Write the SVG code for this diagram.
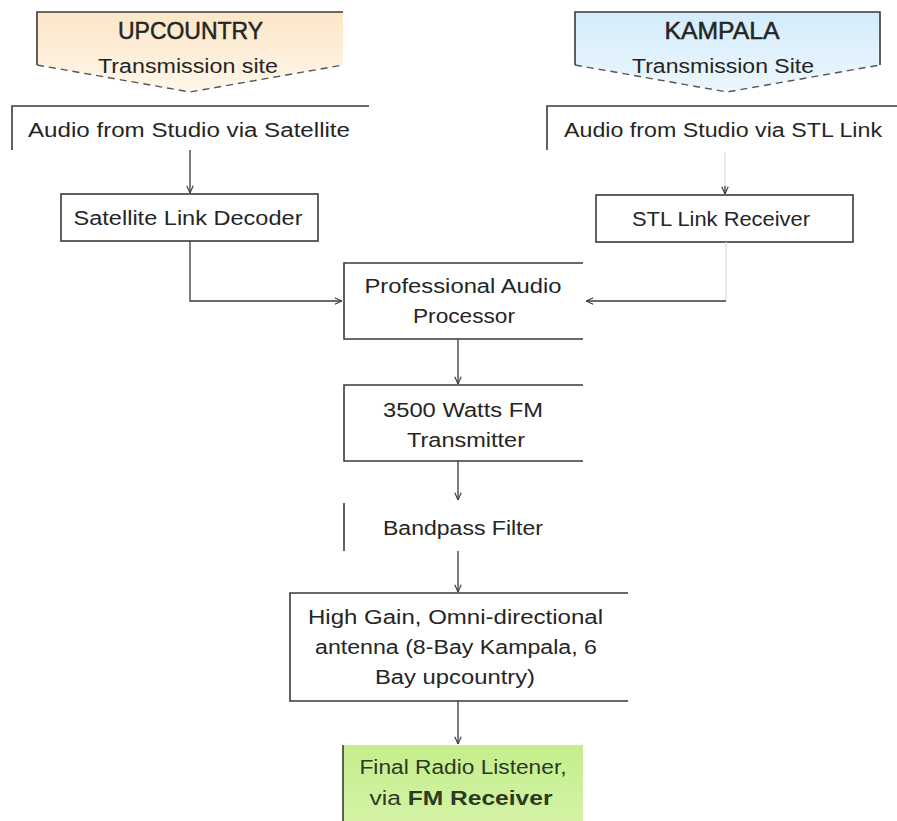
<svg xmlns="http://www.w3.org/2000/svg" width="897" height="821" viewBox="0 0 897 821">
<style>
  .t { font-family: "Liberation Sans", Arial, sans-serif; font-size: 20px; fill: #252525; text-anchor: middle; }
  .h { font-size: 24px; stroke: #252525; stroke-width: 0.5; }
  .g { fill: #2c3a22; }
  .b { font-weight: bold; }
  .ln { stroke: #3a3a3a; stroke-width: 1.6; fill: none; }
  .fl { stroke: #d8d8d8; stroke-width: 1.2; fill: none; }
  .dash { stroke: #555; stroke-width: 1.4; fill: none; stroke-dasharray: 7 5; }
  .con { stroke: #3a3a3a; stroke-width: 1.3; fill: none; }
</style>
<defs>
  <linearGradient id="peach" x1="0" y1="0" x2="0" y2="1">
    <stop offset="0" stop-color="#fce6c6"/>
    <stop offset="1" stop-color="#fff6ea"/>
  </linearGradient>
  <linearGradient id="blue" x1="0" y1="0" x2="0" y2="1">
    <stop offset="0" stop-color="#d3ecfb"/>
    <stop offset="1" stop-color="#ecf7fd"/>
  </linearGradient>
  <linearGradient id="green" x1="0" y1="0" x2="0" y2="1">
    <stop offset="0" stop-color="#c4ee8c"/>
    <stop offset="1" stop-color="#d4f3a6"/>
  </linearGradient>
  <marker id="arr" viewBox="0 0 10 10" refX="10" refY="5" markerWidth="8" markerHeight="8" markerUnits="userSpaceOnUse" orient="auto">
    <path d="M1,1 L10,5 L1,9" fill="none" stroke="#3a3a3a" stroke-width="1.4"/>
  </marker>
</defs>
<rect width="897" height="821" fill="#ffffff"/>

<g id="upcountry">
  <polygon points="37,12 343,12 343,65 190,92 37,65" fill="url(#peach)"/>
  <path class="ln" d="M37,65 L37,12 L343,12"/>
  <path class="dash" d="M37,65 L190,92 L343,65"/>
  <text class="t h" x="190.5" y="39" textLength="145" lengthAdjust="spacingAndGlyphs">UPCOUNTRY</text>
  <text class="t" x="188" y="73" textLength="180" lengthAdjust="spacingAndGlyphs">Transmission site</text>
</g>

<g id="kampala">
  <polygon points="575,12 880,12 880,65 727,92 575,65" fill="url(#blue)"/>
  <path class="ln" d="M575,65 L575,12 L880,12 L880,65"/>
  <path class="dash" d="M575,65 L727,92 L880,65"/>
  <text class="t h" x="722" y="39" textLength="115" lengthAdjust="spacingAndGlyphs">KAMPALA</text>
  <text class="t" x="723" y="73" textLength="182" lengthAdjust="spacingAndGlyphs">Transmission Site</text>
</g>

<g id="audio-satellite">
  <path class="ln" d="M12,150 L12,106 L369,106"/>
  <text class="t" x="189" y="137" textLength="322" lengthAdjust="spacingAndGlyphs">Audio from Studio via Satellite</text>
</g>

<g id="audio-stl">
  <path class="ln" d="M547,150 L547,106 L897,106"/>
  <text class="t" x="723" y="137" textLength="318" lengthAdjust="spacingAndGlyphs">Audio from Studio via STL Link</text>
</g>

<g id="satellite-decoder">
  <rect class="ln" x="61" y="194" width="257" height="47"/>
  <text class="t" x="188" y="225" textLength="229" lengthAdjust="spacingAndGlyphs">Satellite Link Decoder</text>
</g>

<g id="stl-receiver">
  <rect class="ln" x="596" y="195" width="257" height="47"/>
  <text class="t" x="721" y="226" textLength="178" lengthAdjust="spacingAndGlyphs">STL Link Receiver</text>
</g>

<g id="audio-processor">
  <path class="ln" d="M583,263 L344,263 L344,339 L583,339"/>
  <text class="t" x="463" y="293" textLength="197" lengthAdjust="spacingAndGlyphs">Professional Audio</text>
  <text class="t" x="464" y="323" textLength="102" lengthAdjust="spacingAndGlyphs">Processor</text>
</g>

<g id="transmitter">
  <path class="ln" d="M583,385 L344,385 L344,461 L583,461"/>
  <text class="t" x="463" y="417" textLength="160" lengthAdjust="spacingAndGlyphs">3500 Watts FM</text>
  <text class="t" x="466" y="447" textLength="118" lengthAdjust="spacingAndGlyphs">Transmitter</text>
</g>

<g id="bandpass-filter">
  <path class="ln" d="M344,503 L344,551"/>
  <text class="t" x="463" y="535" textLength="160" lengthAdjust="spacingAndGlyphs">Bandpass Filter</text>
</g>

<g id="antenna">
  <path class="ln" d="M628,593 L290,593 L290,701 L628,701"/>
  <text class="t" x="455.5" y="624" textLength="295" lengthAdjust="spacingAndGlyphs">High Gain, Omni-directional</text>
  <text class="t" x="456" y="654" textLength="282" lengthAdjust="spacingAndGlyphs">antenna (8-Bay Kampala, 6</text>
  <text class="t" x="455" y="684" textLength="160" lengthAdjust="spacingAndGlyphs">Bay upcountry)</text>
</g>

<g id="final-listener">
  <rect x="343" y="745" width="240" height="80" fill="url(#green)"/>
  <path class="ln" d="M343,745 L343,821"/>
  <text class="t g" x="463" y="774" textLength="207" lengthAdjust="spacingAndGlyphs">Final Radio Listener,</text>
  <text class="t g" x="461" y="805" textLength="183" lengthAdjust="spacingAndGlyphs">via <tspan class="b">FM Receiver</tspan></text>
</g>

<g id="connectors">
  <path class="con" d="M190,150 L190,193" marker-end="url(#arr)"/>
  <path class="fl" d="M725,152 L725,186"/>
  <path class="con" d="M725,186 L725,194" marker-end="url(#arr)"/>
  <path class="con" d="M190,241 L190,301 L342,301" marker-end="url(#arr)"/>
  <path class="fl" d="M726,242 L726,301"/>
  <path class="con" d="M726,301 L586,301" marker-end="url(#arr)"/>
  <path class="con" d="M458,339 L458,384" marker-end="url(#arr)"/>
  <path class="con" d="M458,461 L458,500" marker-end="url(#arr)"/>
  <path class="con" d="M458,551 L458,592" marker-end="url(#arr)"/>
  <path class="con" d="M458,701 L458,744" marker-end="url(#arr)"/>
</g>
</svg>
